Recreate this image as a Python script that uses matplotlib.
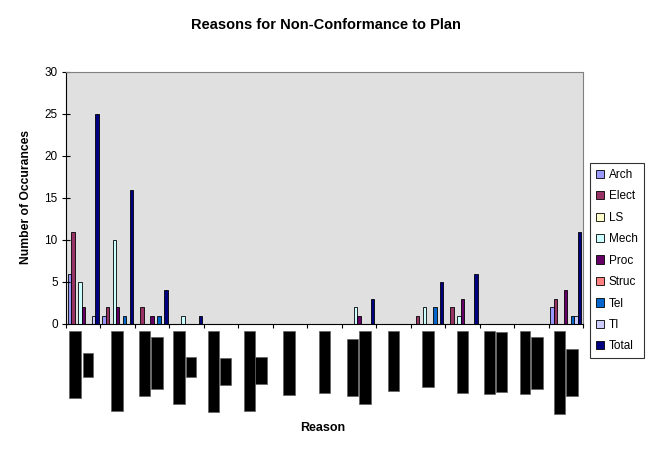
import numpy as np
import matplotlib
matplotlib.use('Agg')
import matplotlib.pyplot as plt
from matplotlib.patches import Rectangle
import matplotlib.transforms as mtransforms

plt.rcParams['font.family'] = ['Liberation Sans', 'DejaVu Sans']

# 15 reasons (labels are redacted in the source), 9 series
n_reasons = 15
series = ['Arch', 'Elect', 'LS', 'Mech', 'Proc', 'Struc', 'Tel', 'TI', 'Total']
colors = ['#9999FF', '#993366', '#FFFFCC', '#CCFFFF', '#660066',
          '#FF8080', '#0066CC', '#CCCCFF', '#000080']

arch  = [6, 1, 0, 0, 0, 0, 0, 0, 0, 0, 0, 0, 0, 0, 2]
elect = [11, 2, 2, 0, 0, 0, 0, 0, 0, 0, 1, 2, 0, 0, 3]
ls    = [0, 0, 0, 0, 0, 0, 0, 0, 0, 0, 0, 0, 0, 0, 0]
mech  = [5, 10, 0, 1, 0, 0, 0, 0, 2, 0, 2, 1, 0, 0, 0]
proc  = [2, 2, 1, 0, 0, 0, 0, 0, 1, 0, 0, 3, 0, 0, 4]
struc = [0, 0, 0, 0, 0, 0, 0, 0, 0, 0, 0, 0, 0, 0, 0]
tel   = [0, 1, 1, 0, 0, 0, 0, 0, 0, 0, 2, 0, 0, 0, 1]
ti    = [1, 0, 0, 0, 0, 0, 0, 0, 0, 0, 0, 0, 0, 0, 1]
total = [25, 16, 4, 1, 0, 0, 0, 0, 3, 0, 5, 6, 0, 0, 11]
values = [arch, elect, ls, mech, proc, struc, tel, ti, total]

# redacted tick labels: (x offset from category centre, width, top px, bottom px)
redact = [
    [(-0.40, 0.34, 331, 398), (-0.01, 0.30, 353, 377)],
    [(-0.19, 0.34, 331, 411)],
    [(-0.38, 0.32, 331, 396), (-0.03, 0.35, 337, 389)],
    [(-0.39, 0.35, 331, 404), (-0.01, 0.29, 357, 377)],
    [(-0.37, 0.32, 331, 412), (-0.02, 0.32, 358, 385)],
    [(-0.35, 0.32, 331, 411), (-0.03, 0.37, 357, 384)],
    [(-0.19, 0.32, 331, 395)],
    [(-0.17, 0.32, 331, 393)],
    [(-0.36, 0.32, 339, 396), (-0.01, 0.35, 331, 404)],
    [(-0.17, 0.32, 331, 391)],
    [(-0.18, 0.35, 331, 387)],
    [(-0.16, 0.32, 331, 393)],
    [(-0.38, 0.32, 331, 394), (-0.03, 0.32, 332, 392)],
    [(-0.33, 0.29, 331, 394), (-0.01, 0.35, 337, 389)],
    [(-0.35, 0.33, 331, 414), (0.01, 0.34, 349, 396)],
]

W, H = 653, 455
fig = plt.figure(figsize=(W / 100, H / 100), dpi=100)
ax = fig.add_axes([66 / W, 1 - 324 / H, 517 / W, 252 / H])
ax.set_facecolor('#E0E0E0')

x = np.arange(n_reasons)
bw = 0.1
for j, (name, col, vals) in enumerate(zip(series, colors, values)):
    ax.bar(x + (j - 4) * bw, vals, width=bw, color=col, edgecolor='black',
           linewidth=0.6, label=name)

ax.set_xlim(-0.5, n_reasons - 0.5)
ax.set_ylim(0, 30)
ax.set_yticks(range(0, 31, 5))
ax.set_xticks(np.arange(-0.5, n_reasons, 1.0))
ax.set_xticklabels([])
ax.tick_params(axis='y', direction='inout', length=6, width=0.8,
               labelsize=8.5, pad=3)
ax.tick_params(axis='x', direction='out', length=3, width=0.8)
for s in ['top', 'right']:
    ax.spines[s].set_color('#808080')
for s in ['left', 'bottom']:
    ax.spines[s].set_color('black')

trans = mtransforms.blended_transform_factory(ax.transData, fig.transFigure)
for i, boxes in enumerate(redact):
    for dx, w, top, bot in boxes:
        ax.add_patch(Rectangle((i + dx, 1 - bot / H), w, (bot - top) / H,
                               transform=trans, facecolor='black',
                               edgecolor='#606060', linewidth=0.5, clip_on=False))

fig.text(326 / W, 1 - 25 / H, 'Reasons for Non-Conformance to Plan',
         ha='center', va='center', fontsize=10.5, fontweight='bold')
fig.text(26 / W, 1 - 197 / H, 'Number of Occurances', rotation=90,
         ha='center', va='center', fontsize=8.7, fontweight='bold')
fig.text(323 / W, 1 - 428 / H, 'Reason', ha='center', va='center',
         fontsize=9, fontweight='bold')

leg = fig.legend(loc='upper left', bbox_to_anchor=(590 / W, 1 - 163 / H),
                 borderaxespad=0, fontsize=8.5, frameon=True, fancybox=False,
                 handlelength=0.7, handleheight=0.7, handletextpad=0.4,
                 labelspacing=0.8, borderpad=0.5)
leg.get_frame().set_edgecolor('black')
leg.get_frame().set_linewidth(0.8)

fig.savefig('out.png', dpi=100)
